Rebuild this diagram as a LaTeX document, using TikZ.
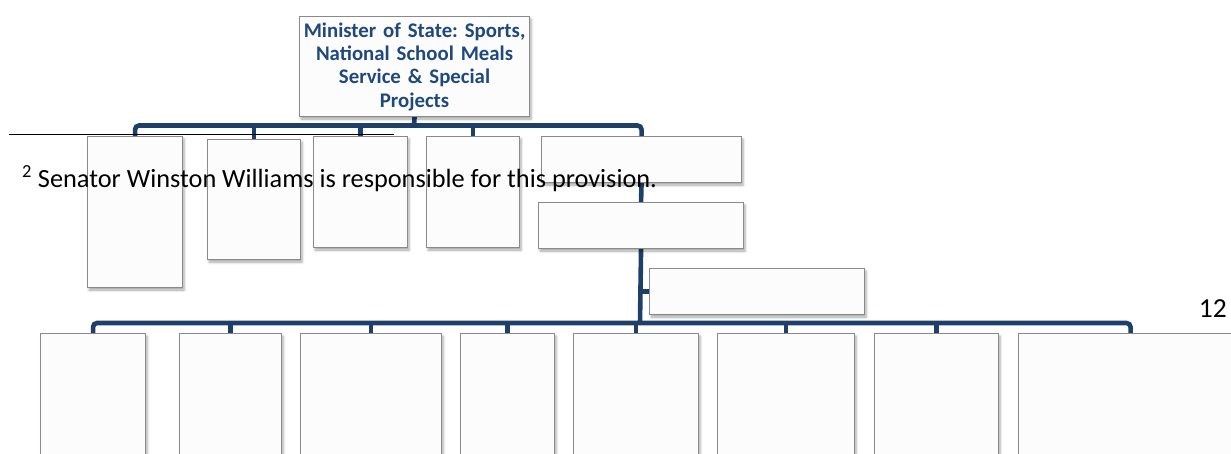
\documentclass[tikz,border=0pt]{standalone}
\usepackage{fontspec}
\setmainfont{Carlito}
\frenchspacing
\usetikzlibrary{shadows.blur,backgrounds}
\definecolor{treeblue}{HTML}{1F3F6B}
\definecolor{txtblue}{HTML}{1F497D}
\definecolor{boxline}{HTML}{8A8A8A}
\tikzset{
  orgbox/.style={draw=boxline, line width=1.1pt, fill=white!99!black, rectangle,
    anchor=north west, inner sep=0pt,
    blur shadow={shadow xshift=1.5pt, shadow yshift=-2.5pt, shadow blur radius=2.5pt, shadow opacity=35}},
  conn/.style={draw=treeblue, line width=4.6pt, rounded corners=4pt},
}
\newcommand{\obox}[5]{\node[orgbox, minimum width=#4pt, minimum height=#5pt] (#1) at (#2,#3) {};}
\begin{document}
\begin{tikzpicture}[x=1pt,y=-1pt]
\useasboundingbox (0,0) rectangle (1231,453);
% top box
\node[orgbox, minimum width=230pt, minimum height=100pt, text=txtblue,
  font=\bfseries\fontsize{20.8}{23.3}\selectfont, align=center, text width=226pt] (top) at (299,16)
  {Minister of State: Sports,\\National School Meals\\Service \& Special\\Projects};
% first row
\obox{A}{87}{136}{95}{151}
\obox{B}{207}{139}{93}{120}
\obox{C}{313}{136}{94}{111}
\obox{D}{426}{136}{93}{111}
\obox{E}{541}{136}{200}{46}
\obox{F}{538}{202}{205}{46}
\obox{G}{649}{268}{215}{46}
% lower row
\obox{L1}{40}{333}{105}{150}
\obox{L2}{179}{333}{102}{150}
\obox{L3}{300}{333}{141}{150}
\obox{L4}{460}{333}{94}{150}
\obox{L5}{573}{333}{125}{150}
\obox{L6}{717}{333}{137}{150}
\obox{L7}{874}{333}{124}{150}
\obox{L8}{1018}{333}{224}{150}
\coordinate (b1) at (414,125.5);
\coordinate (b2) at (640,323);
\begin{scope}[on background layer]
  \draw[conn] (top.south) -- (b1);
  \draw[conn] (A.north) |- (b1) -| (E.north);
  \foreach \n in {B,C,D} \draw[conn] (\n.north) -- (\n.north |- b1);
  \draw[conn] (E.south) -- (F.north);
  \draw[conn] (F.south) -- (b2);
  \draw[conn] (G.west) -- (G.west -| b2);
  \draw[conn] (L1.north) |- (b2) -| (L8.north);
  \foreach \n in {L2,L3,L4,L5,L6,L7} \draw[conn] (\n.north) -- (\n.north |- b2);
\end{scope}
% footnote
\coordinate (sepL) at (9,134);
\coordinate (sepR) at (394,134);
\draw[black, line width=1pt] (sepL) -- (sepR);
\node[anchor=base west, inner sep=0pt, font=\fontsize{26.3}{30}\selectfont] (fn) at (22,187)
  {\textsuperscript{2} Senator Winston Williams is responsible for this provision.};
\node[anchor=base east, inner sep=0pt, font=\fontsize{27.5}{30}\selectfont] (pg) at (1227,317) {12};
\end{tikzpicture}
\end{document}
